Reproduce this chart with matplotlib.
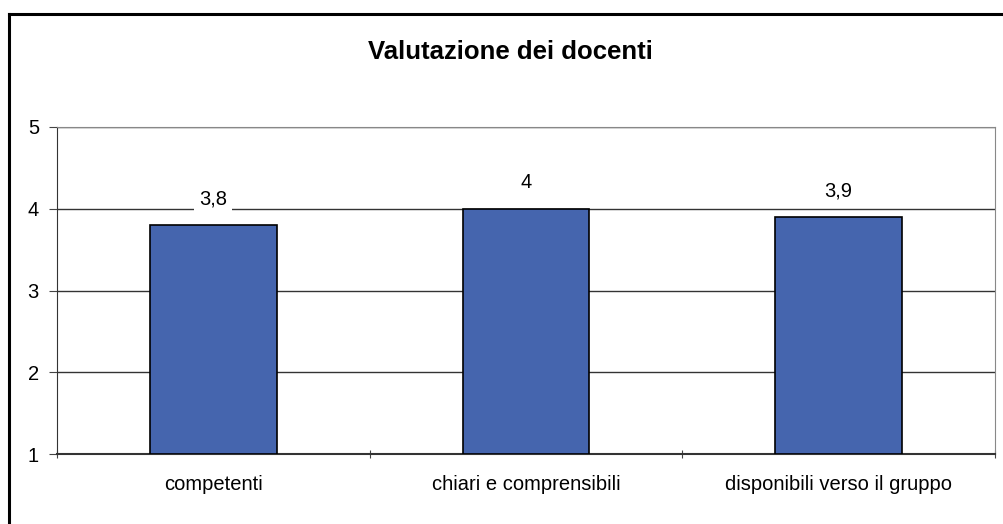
import matplotlib
matplotlib.use('Agg')
import matplotlib.pyplot as plt
from matplotlib.lines import Line2D

plt.rcParams['font.family'] = ['Liberation Sans', 'DejaVu Sans']

categories = ['competenti', 'chiari e comprensibili', 'disponibili verso il gruppo']
values = [3.8, 4.0, 3.9]
value_labels = ['3,8', '4', '3,9']
y_ticks = [1, 2, 3, 4, 5]

BAR_COLOR = '#4565AE'
LABEL_SIZE = 14.5


def main():
    fig = plt.figure(figsize=(10.04, 5.24), dpi=100)
    ax = fig.add_axes([57 / 1004, 1 - 454 / 524, (995 - 57) / 1004, (454 - 127) / 524])

    x = list(range(len(categories)))
    ax.bar(x, [v - 1 for v in values], bottom=1, width=0.405,
           color=BAR_COLOR, edgecolor='black', linewidth=1.2, zorder=3)

    # value labels, white box hides the grid line behind them
    for xi, v, lab in zip(x, values, value_labels):
        ax.annotate(lab, (xi, v), xytext=(0, 19), textcoords='offset points',
                    ha='center', va='center', fontsize=LABEL_SIZE, zorder=4,
                    bbox=dict(boxstyle='square,pad=0.25', fc='white', ec='none'))

    ax.set_xlim(-0.5, len(categories) - 0.5)
    ax.set_ylim(1, 5)
    ax.set_yticks(y_ticks)
    ax.set_yticklabels([str(t) for t in y_ticks], fontsize=LABEL_SIZE)

    # ticks between categories, labels centred on the bars
    ax.set_xticks([i - 0.5 for i in range(len(categories) + 1)])
    ax.set_xticklabels([])
    ax.set_xticks(x, minor=True)
    ax.set_xticklabels(categories, minor=True, fontsize=LABEL_SIZE)
    ax.tick_params(axis='x', which='major', length=6, color='#444444', direction='inout')
    ax.tick_params(axis='x', which='minor', length=0, pad=15)
    ax.tick_params(axis='y', length=6, color='#444444', pad=7, direction='out')

    ax.grid(axis='y', color='#333333', linewidth=1.0, zorder=1)
    ax.set_axisbelow(True)

    ax.spines['left'].set_color('#333333')
    ax.spines['bottom'].set_color('#333333')
    ax.spines['bottom'].set_linewidth(1.5)
    ax.spines['top'].set_color('#888888')
    ax.spines['right'].set_color('#888888')

    fig.text(510 / 1004, 1 - 52 / 524, 'Valutazione dei docenti',
             ha='center', va='center', fontsize=18.5, fontweight='bold')

    # outer chart frame (left and top edges visible)
    fig.add_artist(Line2D([9 / 1004, 9 / 1004], [0, 1 - 14 / 524], color='black', linewidth=2.2))
    fig.add_artist(Line2D([9 / 1004, 1], [1 - 14 / 524, 1 - 14 / 524], color='black', linewidth=2.2))

    fig.savefig('out.png', dpi=100)


if __name__ == '__main__':
    main()
